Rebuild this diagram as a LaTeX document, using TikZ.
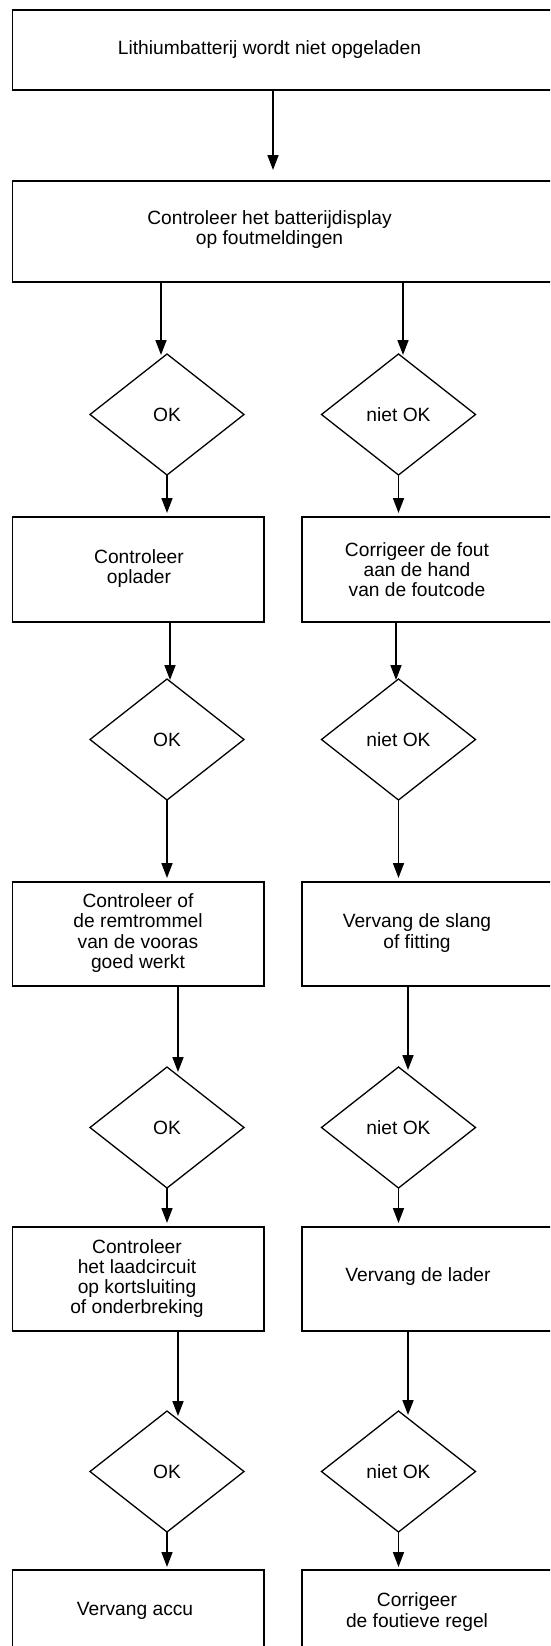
\documentclass[tikz,border=0pt]{standalone}
\usepackage{fontspec}
\setmainfont{Liberation Sans}
\usetikzlibrary{shapes.geometric,arrows.meta,calc}
\begin{document}
\begin{tikzpicture}[x=1pt,y=-1pt,
  box/.style={draw, rectangle, line width=1.8pt, inner sep=0pt, outer sep=0pt},
  txt/.style={align=center, inner sep=0pt, outer sep=0pt, font=\fontsize{19.2}{20.3}\selectfont},
  choice/.style={draw, diamond, line width=1.3pt, minimum width=154pt, minimum height=121pt,
                 inner sep=0pt, outer sep=0pt, font=\fontsize{19.2}{20.3}\selectfont},
  arr/.style={line width=1.7pt, -{Triangle[length=15pt,width=11pt]}}]

\useasboundingbox (0,0) rectangle (550,1646);
\clip (0,0) rectangle (550,1646);

% boxes
\node[box, minimum width=552.5pt, minimum height=80pt]  (b1)  at (288.75,50)   {};
\node[box, minimum width=552.5pt, minimum height=101pt] (b2)  at (288.75,231.5) {};
\node[box, minimum width=251.5pt, minimum height=105pt] (b3l) at (138.25,569.5) {};
\node[box, minimum width=263pt,   minimum height=105pt] (b3r) at (433.5,569.5)  {};
\node[box, minimum width=251.5pt, minimum height=104pt] (b5l) at (138.25,934)   {};
\node[box, minimum width=263pt,   minimum height=104pt] (b5r) at (433.5,934)    {};
\node[box, minimum width=251.5pt, minimum height=104pt] (b7l) at (138.25,1279)  {};
\node[box, minimum width=263pt,   minimum height=104pt] (b7r) at (433.5,1279)   {};
\node[box, minimum width=251.5pt, minimum height=110pt] (b9l) at (138.25,1625)  {};
\node[box, minimum width=263pt,   minimum height=110pt] (b9r) at (433.5,1625)   {};

% box texts
\node[txt] (t1)  at (269.5,49.5)  {Lithiumbatterij wordt niet opgeladen};
\node[txt] (t2)  at (269.5,229.5) {Controleer het batterijdisplay\\op foutmeldingen};
\node[txt] (t3l) at (139,568.5)   {Controleer\\oplader};
\node[txt] (t3r) at (417,569.5)   {Corrigeer de fout\\aan de hand\\van de foutcode};
\node[txt] (t5l) at (138,933)     {Controleer of\\de remtrommel\\van de vooras\\goed werkt};
\node[txt] (t5r) at (417,933)     {Vervang de slang\\of fitting};
\node[txt] (t7l) at (137,1278.5)  {Controleer\\het laadcircuit\\op kortsluiting\\of onderbreking};
\node[txt] (t7r) at (418,1276.5)  {Vervang de lader};
\node[txt] (t9l) at (135,1611)    {Vervang accu};
\node[txt] (t9r) at (417,1612)    {Corrigeer\\de foutieve regel};

% decisions
\node[choice] (d1l) at (167,414.5)   {OK};
\node[choice] (d1r) at (398.5,414.5) {niet OK};
\node[choice] (d2l) at (167,739.5)   {OK};
\node[choice] (d2r) at (398.5,739.5) {niet OK};
\node[choice] (d3l) at (167,1127.5)  {OK};
\node[choice] (d3r) at (398.5,1127.5){niet OK};
\node[choice] (d4l) at (167,1471.5)  {OK};
\node[choice] (d4r) at (398.5,1471.5){niet OK};

% connectors
\draw[arr] ($(b1.south west)+(260.5,0)$) -- ($(b2.north west)+(260.5,-11)$);

\draw[arr] ($(b2.south -| d1l.north)+(-6,0)$) -- ($(d1l.north)+(-6,1)$);
\draw[arr] ($(b2.south -| d1r.north)+(4.5,0)$) -- ($(d1r.north)+(4.5,1)$);
\draw[arr] (d1l.south) -- ($(b3l.north -| d1l.south)+(0,-4)$);
\draw[arr] (d1r.south) -- ($(b3r.north -| d1r.south)+(0,-4)$);

\draw[arr] ($(b3l.south -| d2l.north)+(3,0)$) -- ($(d2l.north)+(3,1)$);
\draw[arr] ($(b3r.south -| d2r.north)+(-2.5,0)$) -- ($(d2r.north)+(-2.5,1)$);
\draw[arr] (d2l.south) -- ($(b5l.north -| d2l.south)+(0,-4)$);
\draw[arr] (d2r.south) -- ($(b5r.north -| d2r.south)+(0,-4)$);

\draw[arr] ($(b5l.south -| d3l.north)+(11,0)$) -- ($(d3l.north)+(11,5)$);
\draw[arr] ($(b5r.south -| d3r.north)+(9.5,0)$) -- ($(d3r.north)+(9.5,3)$);
\draw[arr] (d3l.south) -- ($(b7l.north -| d3l.south)+(0,-4)$);
\draw[arr] (d3r.south) -- ($(b7r.north -| d3r.south)+(0,-4)$);

\draw[arr] ($(b7l.south -| d4l.north)+(11,0)$) -- ($(d4l.north)+(11,5)$);
\draw[arr] ($(b7r.south -| d4r.north)+(9.5,0)$) -- ($(d4r.north)+(9.5,4)$);
\draw[arr] (d4l.south) -- ($(b9l.north -| d4l.south)+(0,-3)$);
\draw[arr] (d4r.south) -- ($(b9r.north -| d4r.south)+(0,-3)$);

\end{tikzpicture}
\end{document}
